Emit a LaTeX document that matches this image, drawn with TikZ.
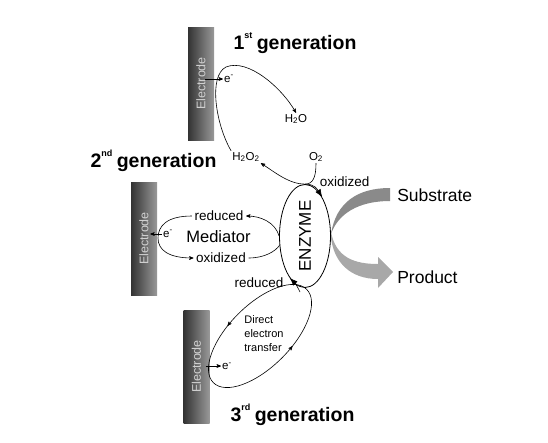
\documentclass[tikz,border=0pt]{standalone}
\usepackage{fontspec}
\setmainfont{Liberation Sans}
\usepackage{graphicx}
\usetikzlibrary{arrows}
\usetikzlibrary{arrows.meta}
\usetikzlibrary{shapes.geometric}
\usetikzlibrary{decorations.markings}
\usetikzlibrary{calc}

\begin{document}
\begin{tikzpicture}[x=1pt,y=-1pt,line width=0.6pt,
  electrode/.style={minimum width=26pt,minimum height=113pt,inner sep=0pt,left color=black!80,right color=black!40,text=black!18,font=\fontsize{12.5}{14}\selectfont},
  gen/.style={font=\fontsize{19.5}{22}\selectfont\bfseries},
  lbl/.style={font=\fontsize{13.5}{15}\selectfont,inner sep=2.5pt},
  chem/.style={font=\fontsize{11.5}{13}\selectfont,inner sep=1pt},
  big/.style={font=\fontsize{17.5}{20}\selectfont,inner sep=1pt},
  bigtip/.style={-{Latex[length=8pt,width=6pt]}}]
\useasboundingbox (0,0) rectangle (548,442);
%% electrodes and generation titles
\foreach \n/\x/\y in {1/201/83.5, 2/144/238.5, 3/196.5/366.5}
    \node[electrode] (el\n) at (\x,\y) {\rotatebox{90}{Electrode}};
\foreach \n/\x/\y/\s in {1/295/43/st, 2/153.5/161/nd, 3/292.5/415/rd}
    \node[gen] (gen\n) at (\x,\y) {\n\raisebox{1.1ex}{\fontsize{9}{10}\selectfont\s}\hspace{-1pt} generation};
%% enzyme
\fill[black!46] (390,188) .. controls (358,188) and (336,202) .. (331,234) .. controls (338,214) and (358,201) .. (390,201) -- cycle;
\fill[black!34] (331,232) .. controls (336,258) and (355,264) .. (378,264) -- (378,257) -- (393,272) -- (378,288) -- (378,279) .. controls (350,279) and (334,262) .. (331,238) -- cycle;
\node[draw,ellipse,minimum width=51pt,minimum height=103pt,inner sep=0pt,line width=0.8pt] (enz) at (305,236) {};
\node[rotate=90,font=\fontsize{17}{20}\selectfont] (enzlbl) at (enz) {ENZYME};
\node[big,anchor=west] (sub) at (396,195) {Substrate};
\node[big,anchor=west] (prod) at (396,277) {Product};
%% 1st generation
\node[chem] (e1) at (229,79) {e\textsuperscript{-}};
\node[chem] (h2o) at (296,119) {H\textsubscript{2}O};
\node[chem] (h2o2) at (246,157) {H\textsubscript{2}O\textsubscript{2}};
\node[chem] (o2) at (316,157) {O\textsubscript{2}};
\node[lbl,anchor=west] (ox1) at (317,182) {oxidized};
\coordinate (jt) at (enz.north);
\draw[-stealth'] ($(el1.east|-e1)+(-9,0)$) -- (e1.west);
\draw[-stealth'] (h2o2.north west) .. controls (216,125) and (208,76) .. (226,67) .. controls (248,58) and (282,88) .. (h2o.north);
\draw[-stealth'] (o2.south) .. controls +(0,14) and +(8,0) .. (jt) .. controls +(-16,0) and +(14,9) .. (h2o2.south east);
\draw[bigtip] (jt) .. controls +(10,0) and +(-5,-8) .. (enz.66);
%% 2nd generation
\node[big,font=\fontsize{16.5}{19}\selectfont] (med) at (218.5,237) {Mediator};
\node[lbl] (red2) at (219,216) {reduced};
\node[lbl] (ox2) at (221,258) {oxidized};
\node[chem] (e2) at (168,234) {e\textsuperscript{-}};
\coordinate (mL) at (158,238);
\draw[-stealth'] (enz.west) .. controls +(-4,-14) and +(14,0) .. (red2.east);
\draw[-stealth'] (red2.west) .. controls +(-25,0) and +(0,-12) .. (mL) .. controls +(0,12) and +(-25,0) .. (ox2.west);
\draw (ox2.east) .. controls +(16,0) and +(-4,6) .. (enz.200);
\draw[-stealth'] (e2.west) -- ($(el2.east|-e2)+(-7,0)$);
%% 3rd generation
\node[font=\fontsize{11}{14}\selectfont,align=left,inner sep=0pt] (det) at (264,334) {Direct\\electron\\transfer};
\node[lbl] (red3) at (259,283) {reduced};
\node[chem] (e3) at (227,366) {e\textsuperscript{-}};
\coordinate (dc) at (260,336);
\coordinate (b3) at (300,292);
\draw[rotate around={45:(dc)},decoration={markings,mark=at position 0.2 with {\arrowreversed{stealth'}},mark=at position 0.7 with {\arrowreversed{stealth'}}},postaction={decorate}] (dc) ellipse (66 and 31);
\draw[bigtip] (b3) .. controls +(-3,-6) and +(6,6) .. (enz.250);
\draw[-stealth'] ($(el3.east|-e3)+(-4,0)$) -- (e3.west);
\end{tikzpicture}
\end{document}
